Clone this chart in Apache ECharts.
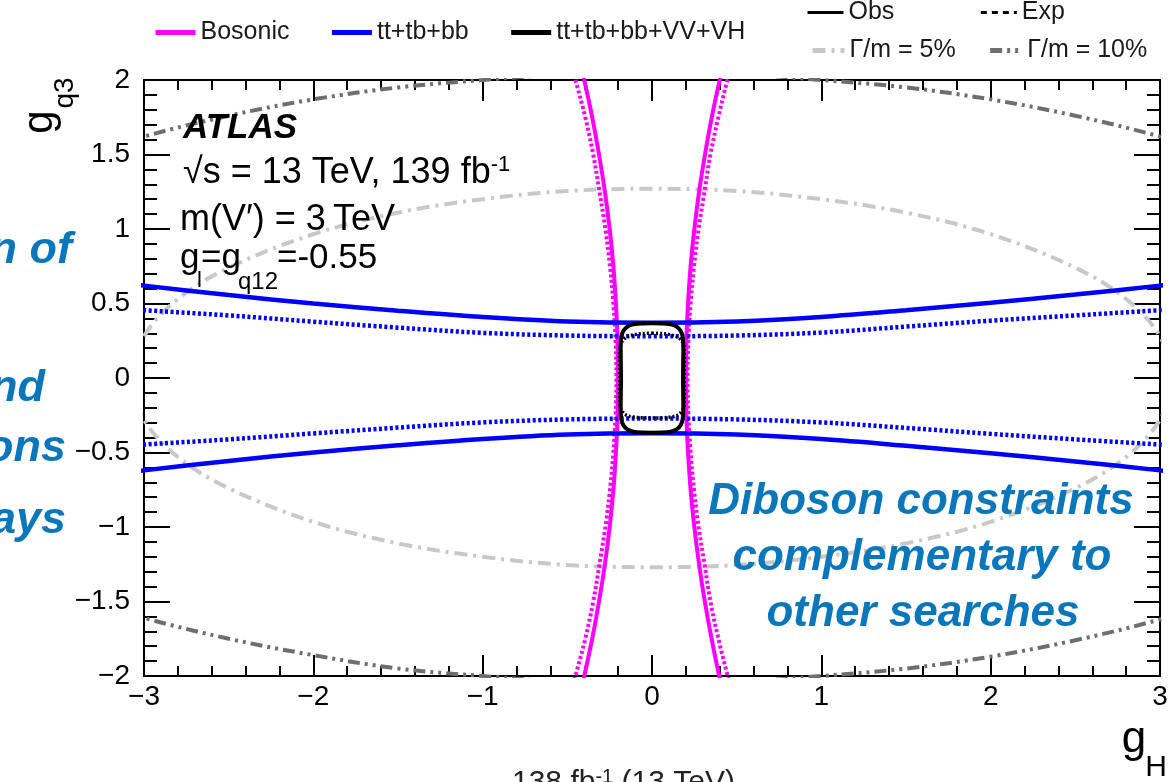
<!DOCTYPE html>
<html><head><meta charset="utf-8">
<script src="https://cdn.jsdelivr.net/npm/echarts@6/dist/echarts.min.js"></script>
<style>html,body{margin:0;padding:0;background:#fff}#c{width:1173px;height:782px}</style>
</head><body><div id="c"></div>
<script>
// ---------- tick labels ----------
const xTickLabels = ['\u22123', '\u22122', '\u22121', '0', '1', '2', '3'];
const yTickLabels = ['\u22122', '\u22121.5', '\u22121', '\u22120.5', '0', '0.5', '1', '1.5', '2'];

// ---------- Bosonic (magenta) ----------
const bosonicObsLeft = [[-0.42,-2.1],[-0.40,-2.0],[-0.353,-1.75],[-0.313,-1.5],[-0.278,-1.25],[-0.25,-1.0],[-0.228,-0.75],[-0.213,-0.5],[-0.203,-0.25],[-0.20,0],[-0.203,0.25],[-0.213,0.5],[-0.228,0.75],[-0.25,1.0],[-0.278,1.25],[-0.313,1.5],[-0.353,1.75],[-0.40,2.0],[-0.42,2.1]];
const bosonicObsRight = [[0.42,-2.1],[0.397,-2.0],[0.352,-1.75],[0.312,-1.5],[0.278,-1.25],[0.25,-1.0],[0.228,-0.75],[0.213,-0.5],[0.203,-0.25],[0.20,0],[0.203,0.25],[0.213,0.5],[0.228,0.75],[0.25,1.0],[0.278,1.25],[0.313,1.5],[0.353,1.75],[0.40,2.0],[0.42,2.1]];
const bosonicExpLeft = [[-0.475,-2.1],[-0.452,-2.0],[-0.394,-1.75],[-0.347,-1.5],[-0.31,-1.25],[-0.275,-1.0],[-0.248,-0.75],[-0.228,-0.5],[-0.215,-0.25],[-0.21,0],[-0.215,0.25],[-0.228,0.5],[-0.248,0.75],[-0.275,1.0],[-0.31,1.25],[-0.347,1.5],[-0.394,1.75],[-0.452,2.0],[-0.475,2.1]];
const bosonicExpRight = [[0.47,-2.1],[0.447,-2.0],[0.392,-1.75],[0.345,-1.5],[0.31,-1.25],[0.275,-1.0],[0.248,-0.75],[0.228,-0.5],[0.215,-0.25],[0.21,0],[0.215,0.25],[0.228,0.5],[0.248,0.75],[0.275,1.0],[0.31,1.25],[0.345,1.5],[0.392,1.75],[0.445,2.0],[0.47,2.1]];

// ---------- tt+tb+bb (blue) ----------
const fermObsUpper = [[-3.2,0.647],[-3,0.62],[-2.5,0.557],[-2,0.50],[-1.5,0.452],[-1,0.41],[-0.5,0.38],[0,0.37],[0.5,0.38],[1,0.41],[1.5,0.455],[2,0.505],[2.5,0.56],[3,0.62],[3.2,0.647]];
const fermObsLower = [[-3.2,-0.647],[-3,-0.62],[-2.5,-0.557],[-2,-0.50],[-1.5,-0.452],[-1,-0.41],[-0.5,-0.38],[0,-0.371],[0.5,-0.38],[1,-0.41],[1.5,-0.455],[2,-0.505],[2.5,-0.56],[3,-0.62],[3.2,-0.647]];
const fermExpUpper = [[-3.2,0.47],[-3,0.455],[-2.5,0.42],[-2,0.378],[-1.5,0.338],[-1,0.303],[-0.5,0.285],[0,0.28],[0.5,0.285],[1,0.305],[1.5,0.345],[2,0.385],[2.5,0.42],[3,0.455],[3.2,0.47]];
const fermExpLower = [[-3.2,-0.465],[-3,-0.447],[-2.5,-0.412],[-2,-0.372],[-1.5,-0.333],[-1,-0.298],[-0.5,-0.278],[0,-0.272],[0.5,-0.278],[1,-0.298],[1.5,-0.335],[2,-0.375],[2.5,-0.412],[3,-0.447],[3.2,-0.465]];

// ---------- combined tt+tb+bb+VV+VH (black) ----------
const combObs = [[0,0.367],[0.06,0.366],[0.11,0.36],[0.145,0.345],[0.17,0.315],[0.182,0.27],[0.185,0.2],[0.184,0.1],[0.183,0],[0.184,-0.1],[0.185,-0.2],[0.182,-0.27],[0.17,-0.315],[0.145,-0.345],[0.11,-0.36],[0.06,-0.366],[0,-0.367],[-0.06,-0.366],[-0.11,-0.36],[-0.145,-0.345],[-0.17,-0.315],[-0.182,-0.27],[-0.185,-0.2],[-0.184,-0.1],[-0.183,0],[-0.184,0.1],[-0.185,0.2],[-0.182,0.27],[-0.17,0.315],[-0.145,0.345],[-0.11,0.36],[-0.06,0.366],[0,0.367]];
const combExp = [[0,0.30],[0.06,0.298],[0.11,0.29],[0.15,0.275],[0.175,0.25],[0.19,0.2],[0.192,0.1],[0.19,0],[0.192,-0.1],[0.19,-0.18],[0.175,-0.225],[0.15,-0.25],[0.11,-0.262],[0.06,-0.267],[0,-0.268],[-0.06,-0.267],[-0.11,-0.262],[-0.15,-0.25],[-0.175,-0.225],[-0.19,-0.18],[-0.192,-0.1],[-0.19,0],[-0.192,0.1],[-0.19,0.2],[-0.175,0.25],[-0.15,0.275],[-0.11,0.29],[-0.06,0.298],[0,0.30]];

// ---------- width contours (grey) ----------
const width5 = [[3.08,0],[3.0,0.28],[2.8,0.53],[2.5,0.74],[2.0,0.965],[1.5,1.11],[1.0,1.20],[0.5,1.255],[0,1.27],[-0.5,1.255],[-1.0,1.20],[-1.5,1.11],[-2.0,0.965],[-2.5,0.74],[-2.8,0.53],[-3.0,0.28],[-3.08,0],[-3.0,-0.28],[-2.8,-0.53],[-2.5,-0.74],[-2.0,-0.965],[-1.5,-1.11],[-1.0,-1.20],[-0.5,-1.255],[0,-1.27],[0.5,-1.255],[1.0,-1.20],[1.5,-1.11],[2.0,-0.965],[2.5,-0.74],[2.8,-0.53],[3.0,-0.28],[3.08,0]];
const width10Upper = [[-3.5,1.44],[-3,1.62],[-2.5,1.76],[-2,1.87],[-1.5,1.95],[-1,2.0],[-0.5,2.04],[0,2.05],[0.5,2.04],[1,2.0],[1.5,1.95],[2,1.87],[2.5,1.76],[3,1.62],[3.5,1.44]];
const width10Lower = [[-3.5,-1.44],[-3,-1.61],[-2.5,-1.75],[-2,-1.86],[-1.5,-1.95],[-1,-2.0],[-0.5,-2.04],[0,-2.05],[0.5,-2.04],[1,-2.0],[1.5,-1.95],[2,-1.87],[2.5,-1.76],[3,-1.62],[3.5,-1.44]];

const F = "'Liberation Sans', Arial, Helvetica, sans-serif";
const MAG = '#ff00ff', BLUE = '#0000ff', BLK = '#000000', G5 = '#c8c8c8', G10 = '#6e6e6e';
const SLIDE = '#0a77bd';

function ln(name, data, color, width, type, z) {
  return { type: 'line', name, data, smooth: 0.35, symbol: 'none', showSymbol: false,
    clip: true, silent: true, z: z || 2,
    lineStyle: { color, width, type: type || 'solid', cap: 'butt' }, itemStyle: { color } };
}

const series = [
  ln('\u0393/m = 5%', width5, G5, 4, [13, 6, 3, 6], 1),
  ln('\u0393/m = 10%', width10Upper, G10, 4, [12, 5, 3, 5, 3, 5], 1),
  ln('\u0393/m = 10%', width10Lower, G10, 4, [12, 5, 3, 5, 3, 5], 1),
  ln('Bosonic', bosonicObsLeft, MAG, 4, 'solid', 2),
  ln('Bosonic', bosonicObsRight, MAG, 4, 'solid', 2),
  ln('Bosonic exp', bosonicExpLeft, MAG, 4, [3, 2.5], 2),
  ln('Bosonic exp', bosonicExpRight, MAG, 4, [3, 2.5], 2),
  ln('tt+tb+bb', fermObsUpper, BLUE, 4.5, 'solid', 3),
  ln('tt+tb+bb', fermObsLower, BLUE, 4.5, 'solid', 3),
  ln('tt+tb+bb exp', fermExpUpper, BLUE, 4.5, [3, 2.5], 3),
  ln('tt+tb+bb exp', fermExpLower, BLUE, 4.5, [3, 2.5], 3),
  ln('tt+tb+bb+VV+VH', combObs, BLK, 4, 'solid', 4),
  ln('tt+tb+bb+VV+VH exp', combExp, BLK, 3.5, [2, 2], 4),
  ln('Obs', [], BLK, 3, 'solid', 4),
  ln('Exp', [], BLK, 3, [6, 5], 4)
];

const axisCommon = {
  type: 'value',
  axisLine: { show: true, onZero: false, lineStyle: { color: '#000', width: 2 } },
  splitLine: { show: false },
  minorSplitLine: { show: false }
};

const legendText = { fontSize: 25, color: '#1a1a1a', fontFamily: F };
const legendCommon = { padding: 0, itemHeight: 14, selectedMode: false, textStyle: legendText,
  itemStyle: { opacity: 0 } };

const option = {
  backgroundColor: '#ffffff',
  animation: false,
  grid: { left: 144, right: 13, top: 80, bottom: 106, containLabel: false },
  legend: [
    Object.assign({}, legendCommon, { data: ['Bosonic', 'tt+tb+bb', 'tt+tb+bb+VV+VH'], left: 153, top: 20, itemWidth: 40, itemGap: 40, lineStyle: { width: 5 } }),
    Object.assign({}, legendCommon, { data: ['Obs', 'Exp'], left: 806, top: 0, itemWidth: 36, itemGap: 85, lineStyle: { width: 3 } }),
    Object.assign({}, legendCommon, { data: ['\u0393/m = 5%', '\u0393/m = 10%'], left: 810, top: 38, itemWidth: 32, itemGap: 32, lineStyle: { width: 5 } })
  ],
  xAxis: [
    Object.assign({}, axisCommon, {
      position: 'bottom', min: -3, max: 3, interval: 1,
      axisTick: { show: true, inside: true, length: 21, lineStyle: { color: '#000', width: 2 } },
      minorTick: { show: true, splitNumber: 5, length: 10, lineStyle: { color: '#000', width: 2 } },
      axisLabel: { show: true, showMinLabel: true, showMaxLabel: true, margin: 7, fontSize: 28, color: '#000', fontFamily: F,
        formatter: v => xTickLabels[Math.round(v) + 3] }
    }),
    Object.assign({}, axisCommon, {
      position: 'top', min: -3, max: 3, interval: 1,
      axisTick: { show: true, inside: true, length: 21, lineStyle: { color: '#000', width: 2 } },
      minorTick: { show: true, splitNumber: 5, length: 10, lineStyle: { color: '#000', width: 2 } },
      axisLabel: { show: false }
    })
  ],
  yAxis: [
    Object.assign({}, axisCommon, {
      position: 'left', min: -2, max: 2, interval: 0.5,
      axisTick: { show: true, inside: true, length: 26, lineStyle: { color: '#000', width: 2 } },
      minorTick: { show: true, splitNumber: 5, length: 13, lineStyle: { color: '#000', width: 2 } },
      axisLabel: { show: true, showMinLabel: true, showMaxLabel: true, margin: 14, fontSize: 28, color: '#000', fontFamily: F,
        formatter: v => yTickLabels[Math.round((v + 2) * 2)] }
    }),
    Object.assign({}, axisCommon, {
      position: 'right', min: -2, max: 2, interval: 0.5,
      axisTick: { show: true, inside: true, length: 26, lineStyle: { color: '#000', width: 2 } },
      minorTick: { show: true, splitNumber: 5, length: 13, lineStyle: { color: '#000', width: 2 } },
      axisLabel: { show: false }
    })
  ],
  series: series,
  graphic: [
    // ATLAS label block
    { type: 'text', x: 183, y: 128, z: 10, style: { text: 'ATLAS', fill: '#000', font: 'italic bold 35px ' + F, verticalAlign: 'middle' } },
    { type: 'text', x: 183, y: 173, z: 10, style: { text: '{a|\u221As = 13 TeV, 139 fb}{b|-1}', verticalAlign: 'middle',
        rich: { a: { fontSize: 36, fontFamily: F, fill: '#000', lineHeight: 38 }, b: { fontSize: 22, fontFamily: F, fill: '#000', verticalAlign: 'top', lineHeight: 22 } } } },
    { type: 'text', x: 180, y: 220, z: 10, style: { text: 'm(V\u2032) = 3\u2009TeV', fill: '#000', font: '36px ' + F, verticalAlign: 'middle' } },
    { type: 'text', x: 180, y: 258, z: 10, style: { text: 'g', fill: '#000', font: '35px ' + F, verticalAlign: 'middle' } },
    { type: 'text', x: 197, y: 281, z: 10, style: { text: 'l', fill: '#000', font: '22px ' + F, verticalAlign: 'middle' } },
    { type: 'text', x: 201, y: 258, z: 10, style: { text: '=g', fill: '#000', font: '35px ' + F, verticalAlign: 'middle' } },
    { type: 'text', x: 238, y: 282, z: 10, style: { text: 'q12', fill: '#000', font: '24px ' + F, verticalAlign: 'middle' } },
    { type: 'text', x: 277, y: 258, z: 10, style: { text: '=-0.55', fill: '#000', font: '35px ' + F, verticalAlign: 'middle' } },
    // axis titles
    { type: 'text', x: 40, y: 122, rotation: Math.PI / 2, z: 10, style: { text: 'g', fill: '#000', font: '42px ' + F, align: 'center', verticalAlign: 'middle' } },
    { type: 'text', x: 65, y: 93, rotation: Math.PI / 2, z: 10, style: { text: 'q3', fill: '#000', font: '28px ' + F, align: 'center', verticalAlign: 'middle' } },
    { type: 'text', x: 1134, y: 740, z: 10, style: { text: 'g', fill: '#000', font: '44px ' + F, align: 'center', verticalAlign: 'middle' } },
    { type: 'text', x: 1156, y: 768, z: 10, style: { text: 'H', fill: '#000', font: '30px ' + F, align: 'center', verticalAlign: 'middle' } },
    // cut-off luminosity text at the bottom
    { type: 'text', x: 512, y: 783, z: 10, style: { text: '{a|138 fb}{b|-1}{a| (13 TeV)}', verticalAlign: 'middle',
        rich: { a: { fontSize: 30, fontFamily: F, fill: '#222', lineHeight: 32 }, b: { fontSize: 20, fontFamily: F, fill: '#222', verticalAlign: 'top', lineHeight: 20 } } } },
    // slide overlay text (blue)
    { type: 'text', x: 72, y: 251, z: 10, style: { text: 'n of', fill: SLIDE, font: 'italic bold 45px ' + F, align: 'right', verticalAlign: 'middle' } },
    { type: 'text', x: 45, y: 389, z: 10, style: { text: 'nd', fill: SLIDE, font: 'italic bold 45px ' + F, align: 'right', verticalAlign: 'middle' } },
    { type: 'text', x: 66, y: 449, z: 10, style: { text: 'ons', fill: SLIDE, font: 'italic bold 45px ' + F, align: 'right', verticalAlign: 'middle' } },
    { type: 'text', x: 66, y: 521, z: 10, style: { text: 'ays', fill: SLIDE, font: 'italic bold 45px ' + F, align: 'right', verticalAlign: 'middle' } },
    { type: 'text', x: 921, y: 502, z: 10, style: { text: 'Diboson constraints', fill: SLIDE, font: 'italic bold 44px ' + F, align: 'center', verticalAlign: 'middle' } },
    { type: 'text', x: 922, y: 558, z: 10, style: { text: 'complementary to', fill: SLIDE, font: 'italic bold 44px ' + F, align: 'center', verticalAlign: 'middle' } },
    { type: 'text', x: 923, y: 614, z: 10, style: { text: 'other searches', fill: SLIDE, font: 'italic bold 44px ' + F, align: 'center', verticalAlign: 'middle' } }
  ]
};

const chart = echarts.init(document.getElementById('c'), null, { renderer: 'canvas' });
chart.setOption(option);
</script>
</body></html>
